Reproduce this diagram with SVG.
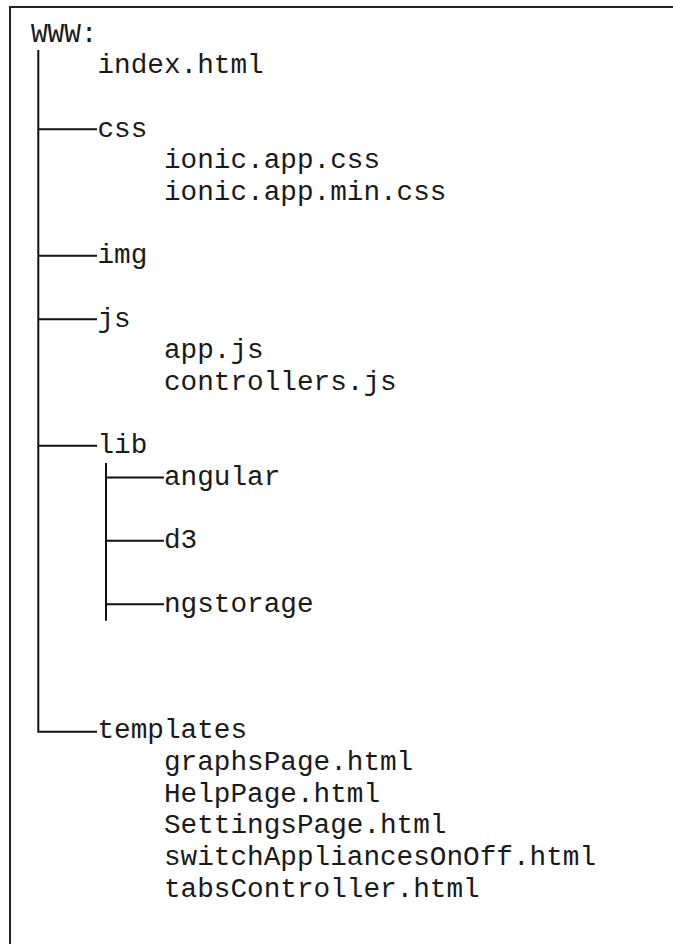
<svg xmlns="http://www.w3.org/2000/svg" width="673" height="944" viewBox="0 0 673 944">
<style>
text{font-family:"Liberation Mono","Courier New",monospace;font-size:27.7px;fill:#1a1a1a}
.ln{fill:none;stroke:#111;stroke-width:2}
.frame{fill:none;stroke:#222;stroke-width:2}
</style>
<rect width="673" height="944" fill="#fff"/>
<rect class="frame" x="10" y="7" width="700" height="1000"/>
<g id="connectors">
<path class="ln" d="M38.3 50V731.8H97"/>
<path class="ln" d="M38.3 129.2H97M38.3 255.8H97M38.3 319.2H97M38.3 445.8H97"/>
<path class="ln" d="M106 463V620.7"/>
<path class="ln" d="M106 477.5H164M106 540.8H164M106 604.2H164"/>
</g>
<g id="www"><text x="31" y="41.5">WWW:</text></g>
<g id="index"><text x="97.5" y="73.1">index.html</text></g>
<g id="css"><text x="97.5" y="136.5">css</text>
<text x="164" y="168.1">ionic.app.css</text>
<text x="164" y="199.8">ionic.app.min.css</text></g>
<g id="img"><text x="97.5" y="263.1">img</text></g>
<g id="js"><text x="97.5" y="326.5">js</text>
<text x="164" y="358.1">app.js</text>
<text x="164" y="389.8">controllers.js</text></g>
<g id="lib"><text x="97.5" y="453.1">lib</text></g>
<g id="angular"><text x="164" y="484.8">angular</text></g>
<g id="d3"><text x="164" y="548.1">d3</text></g>
<g id="ngstorage"><text x="164" y="611.5">ngstorage</text></g>
<g id="templates"><text x="97.5" y="738.1">templates</text>
<text x="164" y="769.8">graphsPage.html</text>
<text x="164" y="801.5">HelpPage.html</text>
<text x="164" y="833.1">SettingsPage.html</text>
<text x="164" y="864.8">switchAppliancesOnOff.html</text>
<text x="164" y="896.5">tabsController.html</text></g>
</svg>
